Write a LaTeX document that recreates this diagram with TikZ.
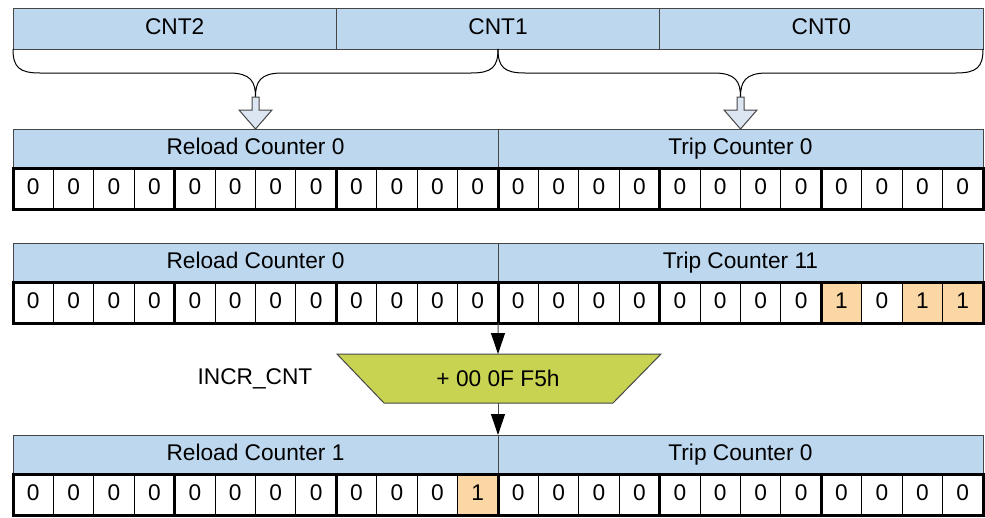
\documentclass[tikz,border=0pt]{standalone}
\usepackage{fontspec}
\setmainfont{Liberation Sans}
\usetikzlibrary{arrows.meta}
\definecolor{hdr}{RGB}{189,215,238}
\definecolor{ora}{RGB}{250,215,165}
\definecolor{lime}{RGB}{201,211,82}
\definecolor{barrow}{RGB}{220,230,242}
\definecolor{edge}{RGB}{70,70,70}
\newcommand\bitrowdraw[3]{%
  \foreach \i in {0,...,23}{%
    \def\cv{0}\def\cf{white}%
    \foreach \j in {#3}{\ifnum\i=\j \gdef\cv{1}\gdef\cf{ora}\fi}%
    \node[cellbox, fill=\cf] (#1c\i) at ({13+\i*40.416667},#2) {\cv};
  }
  \draw[line width=3pt] (#1c0.north west) rectangle (#1c23.south east);
  \foreach \k in {4,8,12,16,20}{\draw[line width=3pt] (#1c\k.north west) -- (#1c\k.south west);}
}
\begin{document}
\begin{tikzpicture}[x=1pt,y=-1pt,
  font=\fontsize{22.7}{27}\selectfont,
  hdrbox/.style={draw=edge, line width=1pt, fill=hdr, minimum height=39pt, inner sep=0pt, outer sep=0pt, anchor=north west, text height=16.3pt, text depth=4.6pt},
  topbox/.style={hdrbox, minimum height=41pt, minimum width=323.3333pt},
  cellbox/.style={draw=black, line width=1pt, minimum width=40.416667pt, minimum height=41pt, inner sep=0pt, outer sep=0pt, anchor=north west, text height=16.3pt, text depth=4.6pt},
  brace/.style={draw=black, line width=1pt},
  blockarrow/.style={draw=edge, line width=1pt, fill=barrow},
  arr/.style={draw=edge, line width=1pt, -{Triangle[length=21pt,width=14pt,color=black,fill=black]}},
  plain/.style={inner sep=0pt}]
\useasboundingbox (0,0) rectangle (985,517);
% top bar
\node[topbox] (cnt2) at (13,8) {CNT2};
\node[topbox] (cnt1) at (336.3333,8) {CNT1};
\node[topbox] (cnt0) at (659.6667,8) {CNT0};
% braces
\draw[brace] (13,49) .. controls (13,67) and (19,73) .. (40,73) -- (229,73)
  .. controls (251,73) and (255.5,82) .. (255.5,97)
  .. controls (255.5,82) and (260,73) .. (282,73) -- (471,73)
  .. controls (492,73) and (498,67) .. (498,49);
\draw[brace] (498,49) .. controls (498,67) and (504,73) .. (525,73) -- (714,73)
  .. controls (736,73) and (740.5,82) .. (740.5,97)
  .. controls (740.5,82) and (745,73) .. (767,73) -- (956,73)
  .. controls (977,73) and (983,67) .. (983,49);
% block arrows
\foreach \cx in {255.5,740.5}{
  \draw[blockarrow] (\cx-3.5,97) -- (\cx+3.5,97) -- (\cx+3.5,110) -- (\cx+16.5,110)
    -- (\cx,129) -- (\cx-16.5,110) -- (\cx-3.5,110) -- cycle;
}
% group 1
\node[hdrbox, minimum width=485pt] (g1L) at (13,129) {Reload Counter 0};
\node[hdrbox, minimum width=485pt] (g1R) at (498,129) {Trip Counter 0};
\bitrowdraw{g1}{168}{-1}
% group 2
\node[hdrbox, minimum width=485pt] (g2L) at (13,243) {Reload Counter 0};
\node[hdrbox, minimum width=485pt] (g2R) at (498,243) {Trip Counter 11};
\bitrowdraw{g2}{282}{20,22,23}
% adder
\fill[lime] (337,354) -- (661,354) -- (613,403) -- (384,403) -- cycle;
\draw[edge, line width=1pt] (337,354) -- (661,354) -- (613,403) -- (384,403) -- cycle;
\node[plain] (trap) at (498,378.5) {+ 00 0F F5h};
\coordinate (trapN) at (498,354);
\coordinate (trapS) at (498,403);
\node[plain] (incr) at (255,378.5) {INCR\_CNT};
% group 3
\node[hdrbox, minimum width=485pt] (g3L) at (13,435) {Reload Counter 1};
\node[hdrbox, minimum width=485pt] (g3R) at (498,435) {Trip Counter 0};
\bitrowdraw{g3}{474}{11}
% arrows
\draw[arr] (g2c12.south west) -- (trapN);
\draw[arr] (trapS) -- (g3R.north west);
\end{tikzpicture}
\end{document}
